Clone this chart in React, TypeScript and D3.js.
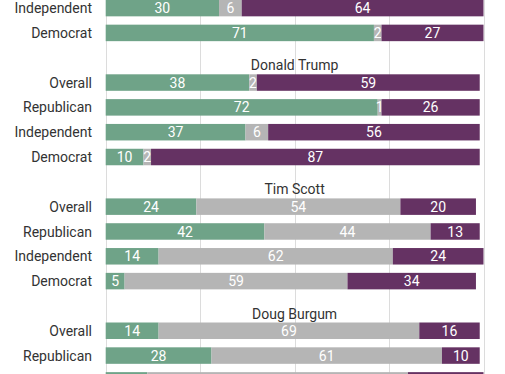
import React, { useRef, useEffect } from 'react';
import * as d3 from 'd3';

// rows of the previous candidate that are still in view (its title and first rows are above)
const prevParties = ['Independent', 'Democrat'];
const prevFavorable = [30, 71];
const prevNoOpinion = [6, 2];
const prevUnfavorable = [64, 27];

const candidates = ['Donald Trump', 'Tim Scott', 'Doug Burgum'];
const parties = ['Overall', 'Republican', 'Independent', 'Democrat'];
const favorable = [[38, 72, 37, 10], [24, 42, 14, 5], [14, 28, 11]];
const noOpinion = [[2, 1, 6, 2], [54, 44, 62, 59], [69, 61, 69]];
const unfavorable = [[59, 26, 56, 87], [20, 13, 24, 34], [16, 10, 20]];

const ticks = [0, 25, 50, 75, 100];
const colors = ['#6fa388', '#b5b5b5', '#653263'];

const W = 505;
const H = 374;

const App = () => {
    const svgRef = useRef(null);

    useEffect(() => {
        const svg = d3.select(svgRef.current);
        svg.selectAll('*').remove();

        const x = d3.scaleLinear().domain([0, 100]).range([105.7, 483.5]);
        // each group = 1 title slot + 4 party slots
        const step = 24.82;
        const slotY = d3.scaleLinear().domain([0, 1]).range([74.3 - 6 * step, 74.3 - 5 * step]);
        const barH = 16.5;

        const rows = [];
        prevParties.forEach((p, i) => {
            rows.push({ label: p, slot: 3 + i, vals: [prevFavorable[i], prevNoOpinion[i], prevUnfavorable[i]] });
        });
        const titles = [];
        candidates.forEach((c, g) => {
            const base = (g + 1) * 5;
            titles.push({ name: c, slot: base });
            favorable[g].forEach((v, i) => {
                rows.push({ label: parties[i], slot: base + 1 + i, vals: [v, noOpinion[g][i], unfavorable[g][i]] });
            });
        });
        // the last row is only a sliver at the bottom edge, its texts fall outside
        const inView = d => slotY(d.slot) + barH / 2 + 6 < H;

        svg.append('rect').attr('width', W).attr('height', H).attr('fill', '#fff');

        svg.append('g')
            .selectAll('line')
            .data(ticks)
            .enter().append('line')
            .attr('x1', d => Math.round(x(d)) + 0.5)
            .attr('x2', d => Math.round(x(d)) + 0.5)
            .attr('y1', 0)
            .attr('y2', H)
            .attr('stroke', '#dcdcdc')
            .attr('stroke-width', 1);

        const row = svg.append('g')
            .selectAll('g')
            .data(rows)
            .enter().append('g')
            .attr('transform', d => `translate(0, ${slotY(d.slot)})`);

        row.filter(inView).append('text')
            .attr('x', 92)
            .attr('y', barH / 2)
            .attr('dy', '0.36em')
            .attr('text-anchor', 'end')
            .attr('fill', '#333')
            .style('font-size', '14px')
            .text(d => d.label);

        const seg = row.selectAll('g.seg')
            .data(d => {
                let acc = 0;
                return d.vals.map((v, k) => {
                    const s = { v, k, x0: acc, x1: acc + v, show: inView(d) };
                    acc += v;
                    return s;
                });
            })
            .enter().append('g')
            .attr('class', 'seg');

        seg.append('rect')
            .attr('x', d => x(d.x0))
            .attr('width', d => x(d.x1) - x(d.x0))
            .attr('height', barH)
            .attr('fill', d => colors[d.k]);

        seg.filter(d => d.show).append('text')
            .attr('x', d => (x(d.x0) + x(d.x1)) / 2)
            .attr('y', barH / 2)
            .attr('dy', '0.36em')
            .attr('text-anchor', 'middle')
            .attr('fill', '#fff')
            .style('font-size', '14px')
            .text(d => d.v);

        svg.append('g')
            .selectAll('text')
            .data(titles)
            .enter().append('text')
            .attr('x', (x(0) + x(100)) / 2)
            .attr('y', d => slotY(d.slot + 1) - 4)
            .attr('text-anchor', 'middle')
            .attr('fill', '#333')
            .style('font-size', '14px')
            .text(d => d.name);
    }, []);

    return (
        <svg
            ref={svgRef}
            width={W}
            height={H}
            style={{ position: 'absolute', left: 0, top: 0, fontFamily: 'Roboto, sans-serif' }}
        />
    );
};

export default App;
